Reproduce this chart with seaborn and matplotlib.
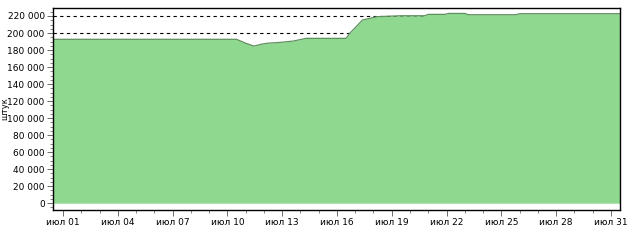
import matplotlib
matplotlib.use("Agg")
import matplotlib.pyplot as plt
import matplotlib.ticker as mticker
import seaborn as sns
import pandas as pd

# data (day of July, value)
days = [0.45, 10.5, 11.0, 11.45, 11.9, 12.2, 12.9, 13.6, 14.3, 16.5, 16.7, 17.4,
        18.2, 19.5, 20.8, 21.0, 21.9, 22.1, 23.0, 23.2, 25.8, 26.0, 31.5]
values = [192600, 192600, 188000, 184700, 187000, 188000, 189000, 190500, 193700,
          193700, 199600, 215300, 219200, 220300, 220300, 221900, 221900, 223000,
          223000, 221500, 221500, 222700, 222700]
thresholds = [200000, 220000]
tick_days = [1, 4, 7, 10, 13, 16, 19, 22, 25, 28, 31]
tick_labels = ["июл %02d" % d for d in tick_days]
ylabel = "штук"

sns.set_theme(style="white")
plt.rcParams['font.family'] = ['DejaVu Sans']

df = pd.DataFrame({"day": days, "value": values})

fig = plt.figure(figsize=(6.4, 2.41), dpi=100)
ax = fig.add_axes([53/640, 1 - 210/241, (620-53)/640, (210-8)/241])

for t in thresholds:
    ax.axhline(t, color="black", linestyle=(0, (3, 3)), linewidth=0.8, zorder=1)

ax.fill_between(df["day"], df["value"], 0, color="#8fd88f", linewidth=0, zorder=2)
sns.lineplot(data=df, x="day", y="value", ax=ax, color="#5f8f5f", linewidth=0.9, zorder=3)

ax.set_xlim(0.45, 31.5)
ax.set_ylim(-8000, 229400)

ax.set_xticks(tick_days)
ax.set_xticklabels(tick_labels)
ax.xaxis.set_minor_locator(mticker.MultipleLocator(1))
ax.yaxis.set_major_locator(mticker.MultipleLocator(20000))
ax.yaxis.set_minor_locator(mticker.MultipleLocator(5000))
ax.yaxis.set_major_formatter(mticker.FuncFormatter(lambda v, p: f"{int(v):,}".replace(",", " ")))

ax.tick_params(axis="both", which="major", direction="out", length=4, width=0.6,
               labelsize=6.5, color="#555555", labelcolor="black", pad=2, left=True, bottom=True)
ax.tick_params(axis="both", which="minor", direction="out", length=2, width=0.5,
               color="#555555", left=True, bottom=True)
for s in ax.spines.values():
    s.set_color("black")
    s.set_linewidth(1.0)
    s.set_zorder(5)

ax.set_xlabel("")
ax.set_ylabel(ylabel, fontsize=6, labelpad=2, color="black")
ax.yaxis.set_label_coords(-0.078, 0.5)

fig.savefig("out.png", dpi=100, facecolor="white")
